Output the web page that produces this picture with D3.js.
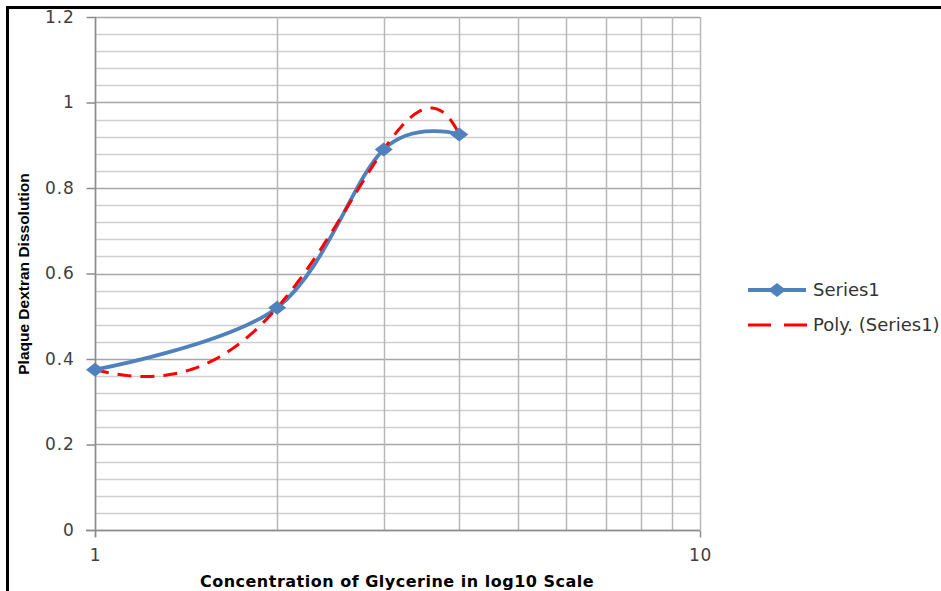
<!DOCTYPE html>
<html>
<head>
<meta charset="utf-8">
<script src="https://cdn.jsdelivr.net/npm/d3@7"></script>
<style>
  html, body { margin: 0; padding: 0; background: #fff; }
  svg { display: block; }
</style>
</head>
<body>
<svg id="chart" width="941" height="591"></svg>
<script>
// Glycerine concentration (log10 axis) vs plaque dextran dissolution
const concentration = [1, 2, 3, 4];
const dissolution   = [0.375, 0.52, 0.89, 0.925];
const xTickLabels   = [1, 10];
const yTickLabels   = [0, 0.2, 0.4, 0.6, 0.8, 1, 1.2];
const seriesName    = "Series1";
const trendName     = "Poly. (Series1)";

const svg = d3.select("#chart");
const W = 941, H = 591;

const x = d3.scaleLog().domain([1, 10]).range([95, 700]);
const y = d3.scaleLinear().domain([0, 1.2]).range([530, 17]);

// frame around the figure
svg.append("line").attr("x1", 7.5).attr("x2", 7.5).attr("y1", 6).attr("y2", H)
  .attr("stroke", "#000").attr("stroke-width", 3);
svg.append("line").attr("x1", 6).attr("x2", W).attr("y1", 7.5).attr("y2", 7.5)
  .attr("stroke", "#000").attr("stroke-width", 3);

// horizontal grid: minor every 0.04, major every 0.2
const minorY = d3.range(0, 61).map(i => +(i * 0.04).toFixed(2)).filter(v => v <= 1.2);
const isMajor = v => Math.abs(v / 0.2 - Math.round(v / 0.2)) < 1e-6;
svg.append("g").selectAll("line").data(minorY).join("line")
  .attr("x1", x(1)).attr("x2", x(10))
  .attr("y1", d => Math.round(y(d)) + 0.5).attr("y2", d => Math.round(y(d)) + 0.5)
  .attr("stroke", d => isMajor(d) ? "#a6a6a6" : "#cfcfcf")
  .attr("stroke-width", 1.5);

// vertical grid at each step 1..10
const vGrid = d3.range(1, 11);
svg.append("g").selectAll("line").data(vGrid).join("line")
  .attr("x1", d => Math.round(x(d)) + 0.5).attr("x2", d => Math.round(x(d)) + 0.5)
  .attr("y1", y(1.2)).attr("y2", y(0))
  .attr("stroke", "#b8b8b8").attr("stroke-width", 1.5);

const tickFont = "'DejaVu Sans', Verdana, sans-serif";

// y axis
const yAxis = d3.axisLeft(y).tickValues(yTickLabels).tickSize(9).tickPadding(12)
  .tickFormat(d => d3.format("~g")(d));
const gy = svg.append("g").attr("transform", `translate(${Math.round(x(1)) + 0.5},0)`).call(yAxis);
gy.select(".domain").attr("stroke", "#8c8c8c").attr("stroke-width", 1.5)
  .attr("d", `M0,${y(1.2)}V${y(0) + 7}`);
gy.selectAll(".tick line").attr("stroke", "#8c8c8c").attr("stroke-width", 1.5);
gy.selectAll(".tick text").attr("fill", "#404040")
  .style("font-family", tickFont).style("font-size", "17px").style("letter-spacing", "0.8px");

// x axis
const xAxis = d3.axisBottom(x).tickValues(xTickLabels).tickSize(7).tickPadding(11)
  .tickFormat(d3.format("d"));
const gx = svg.append("g").attr("transform", `translate(0,${Math.round(y(0)) + 0.5})`).call(xAxis);
gx.select(".domain").attr("stroke", "#8c8c8c").attr("stroke-width", 1.5)
  .attr("d", `M${x(1) - 9},0H${x(10)}`);
gx.selectAll(".tick line").attr("stroke", "#8c8c8c").attr("stroke-width", 1.5);
gx.selectAll(".tick text").attr("fill", "#404040")
  .style("font-family", tickFont).style("font-size", "17px").style("letter-spacing", "0.8px");

// least-squares cubic trendline fitted on the raw concentration values
function polyFit(xs, ys, order) {
  const n = order + 1;
  const A = Array.from({length: n}, () => new Array(n + 1).fill(0));
  for (let r = 0; r < n; r++) {
    for (let c = 0; c < n; c++) A[r][c] = d3.sum(xs, v => Math.pow(v, r + c));
    A[r][n] = d3.sum(xs, (v, i) => Math.pow(v, r) * ys[i]);
  }
  for (let i = 0; i < n; i++) {
    let p = i;
    for (let k = i + 1; k < n; k++) if (Math.abs(A[k][i]) > Math.abs(A[p][i])) p = k;
    [A[i], A[p]] = [A[p], A[i]];
    for (let k = 0; k < n; k++) {
      if (k === i) continue;
      const f = A[k][i] / A[i][i];
      for (let c = i; c <= n; c++) A[k][c] -= f * A[i][c];
    }
  }
  return A.map((row, i) => row[n] / row[i]);
}
const coef = polyFit(concentration, dissolution, 3);
const trend = v => coef.reduce((s, c, i) => s + c * Math.pow(v, i), 0);
const xMin = d3.min(concentration), xMax = d3.max(concentration);
const trendPts = d3.range(0, 201).map(i => {
  const v = xMin + (xMax - xMin) * i / 200;
  return [v, trend(v)];
});

// smoothed data line
svg.append("path")
  .datum(concentration.map((c, i) => [c, dissolution[i]]))
  .attr("fill", "none").attr("stroke", "#4f81bd").attr("stroke-width", 3.8)
  .attr("stroke-linecap", "round")
  .attr("d", d3.line().x(d => x(d[0])).y(d => y(d[1])).curve(d3.curveCardinal.tension(0)));

// polynomial trendline
svg.append("path")
  .datum(trendPts)
  .attr("fill", "none").attr("stroke", "#ff0000").attr("stroke-width", 3)
  .attr("stroke-dasharray", "14,9")
  .attr("d", d3.line().x(d => x(d[0])).y(d => y(d[1])));

// diamond markers
const diamond = (cx, cy, hw, hh) => `M${cx},${cy - hh}L${cx + hw},${cy}L${cx},${cy + hh}L${cx - hw},${cy}Z`;
svg.append("g").selectAll("path").data(concentration).join("path")
  .attr("d", (d, i) => diamond(x(d), y(dissolution[i]), 9, 7))
  .attr("fill", "#4f81bd");

// axis titles
svg.append("text")
  .attr("transform", `translate(29,${274}) rotate(-90)`)
  .attr("text-anchor", "middle")
  .style("font-family", "'Liberation Sans Narrow', 'Arial Narrow', 'Liberation Sans', sans-serif")
  .style("font-weight", "bold").style("font-size", "15.5px").attr("fill", "#000")
  .text("Plaque Dextran Dissolution");

svg.append("text")
  .attr("x", 397).attr("y", 587)
  .attr("text-anchor", "middle")
  .style("font-family", "'DejaVu Sans', Verdana, sans-serif")
  .style("font-weight", "bold").style("font-size", "16px").style("letter-spacing", "0.5px")
  .attr("fill", "#000")
  .text("Concentration of Glycerine in log10 Scale");

// legend
const leg = svg.append("g");
leg.append("line").attr("x1", 748).attr("x2", 806).attr("y1", 290).attr("y2", 290)
  .attr("stroke", "#4f81bd").attr("stroke-width", 3.8);
leg.append("path").attr("d", diamond(777, 290, 9, 7)).attr("fill", "#4f81bd");
leg.append("line").attr("x1", 748).attr("x2", 808).attr("y1", 325).attr("y2", 325)
  .attr("stroke", "#ff0000").attr("stroke-width", 3).attr("stroke-dasharray", "23,13");
leg.selectAll("text").data([seriesName, trendName]).join("text")
  .attr("x", 813).attr("y", (d, i) => 290 + i * 35)
  .attr("dy", "0.35em")
  .style("font-family", "'DejaVu Sans', Verdana, sans-serif").style("font-size", "18px")
  .attr("fill", "#333")
  .text(d => d);
</script>
</body>
</html>
